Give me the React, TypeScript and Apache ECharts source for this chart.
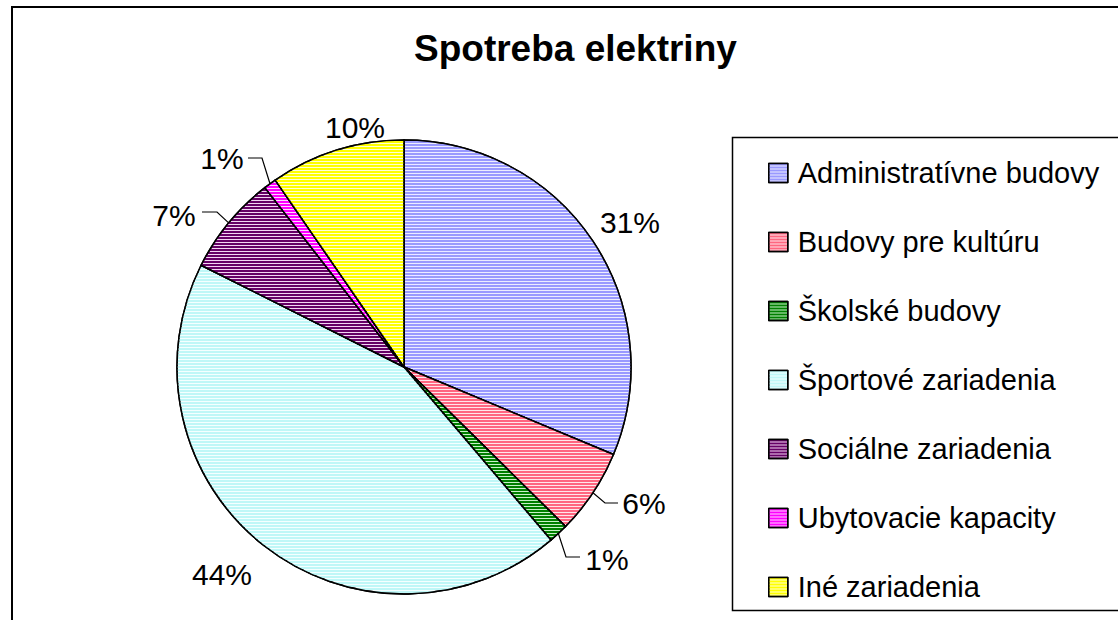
import React, { useEffect, useRef } from "react";
import * as echarts from "echarts";

const TITLE = "Spotreba elektriny";
const CATEGORIES = [
  "Administratívne budovy",
  "Budovy pre kultúru",
  "Školské budovy",
  "Športové zariadenia",
  "Sociálne zariadenia",
  "Ubytovacie kapacity",
  "Iné zariadenia",
];
const VALUES = [31.3, 6.1, 1.4, 43.6, 7.1, 0.9, 9.6];

// stripe (foreground) and background colours of the hatched fills
const LINE_COLORS = ["#9999ff", "#ff6680", "#008000", "#bff7f7", "#660066", "#ff00ff", "#ffff00"];
const FILL_COLORS = ["#ececff", "#ffe6ea", "#c8f0c8", "#f4ffff", "#f2d6f2", "#ffd6ff", "#ffffd8"];

// label anchor (centre of text) and leader line elbow/end (layout only)
const LABEL_LAYOUT: { x: number; y: number; line?: number[][] }[] = [
  { x: 630, y: 222 },
  { x: 644, y: 503, line: [[605, 503], [618, 503]] },
  { x: 607, y: 559, line: [[566, 557], [580, 557]] },
  { x: 222, y: 574 },
  { x: 174, y: 215, line: [[217, 212], [202, 212]] },
  { x: 222, y: 158, line: [[262, 158], [248, 158]] },
  { x: 355, y: 127 },
];

const FONT = "'Liberation Sans', Arial, Helvetica, sans-serif";

export default function App() {
  const ref = useRef<HTMLDivElement>(null);

  useEffect(() => {
    document.body.style.margin = "0";
    if (!ref.current) return;
    const chart = echarts.init(ref.current, null, { renderer: "svg" });

    const data = CATEGORIES.map((name, i) => ({
      name,
      value: VALUES[i],
      itemStyle: {
        color: FILL_COLORS[i],
        decal: {
          symbol: "rect",
          symbolSize: 1,
          dashArrayX: [1, 0],
          dashArrayY: [2, 1],
          rotation: 0,
          color: LINE_COLORS[i],
        },
      },
      labelLine: { show: !!LABEL_LAYOUT[i].line },
    }));

    chart.setOption({
      animation: false,
      backgroundColor: "#ffffff",
      title: {
        text: TITLE,
        left: 414,
        top: 30,
        padding: 0,
        textStyle: {
          fontFamily: FONT,
          fontSize: 37,
          fontWeight: "bold",
          color: "#000",
        },
      },
      legend: {
        orient: "vertical",
        left: 768,
        top: 158,
        padding: 0,
        itemWidth: 19,
        itemHeight: 19,
        itemGap: 39,
        icon: "rect",
        selectedMode: false,
        itemStyle: { borderColor: "#000", borderWidth: 1.5 },
        textStyle: {
          fontFamily: FONT,
          fontSize: 29,
          lineHeight: 30,
          color: "#000",
          padding: [0, 0, 0, 5],
        },
        data: CATEGORIES,
      },
      graphic: [
        {
          type: "rect",
          silent: true,
          z: -10,
          shape: { x: 12, y: 7, width: 1300, height: 800 },
          style: { fill: "none", stroke: "#000", lineWidth: 2 },
        },
        {
          type: "rect",
          silent: true,
          z: -10,
          shape: { x: 732.5, y: 137.5, width: 600, height: 473 },
          style: { fill: "none", stroke: "#000", lineWidth: 1.5 },
        },
      ],
      series: [
        {
          type: "pie",
          center: [404, 367],
          radius: 227,
          startAngle: 90,
          clockwise: true,
          avoidLabelOverlap: false,
          silent: true,
          itemStyle: { borderColor: "#000", borderWidth: 1.5 },
          label: {
            show: true,
            position: "outside",
            fontFamily: FONT,
            fontSize: 30,
            color: "#000",
            formatter: (p: any) => Math.round(p.percent) + "%",
          },
          labelLine: {
            show: true,
            length: 10,
            length2: 10,
            lineStyle: { color: "#000", width: 1.2 },
          },
          labelLayout: (params: any) => {
            const l = LABEL_LAYOUT[params.dataIndex];
            const res: any = {
              x: l.x,
              y: l.y,
              align: "center",
              verticalAlign: "middle",
            };
            if (l.line && params.labelLinePoints) {
              res.labelLinePoints = [params.labelLinePoints[0], l.line[0], l.line[1]];
            }
            return res;
          },
          data,
        },
      ],
    });

    return () => chart.dispose();
  }, []);

  return <div ref={ref} style={{ width: 1118, height: 620 }} />;
}
